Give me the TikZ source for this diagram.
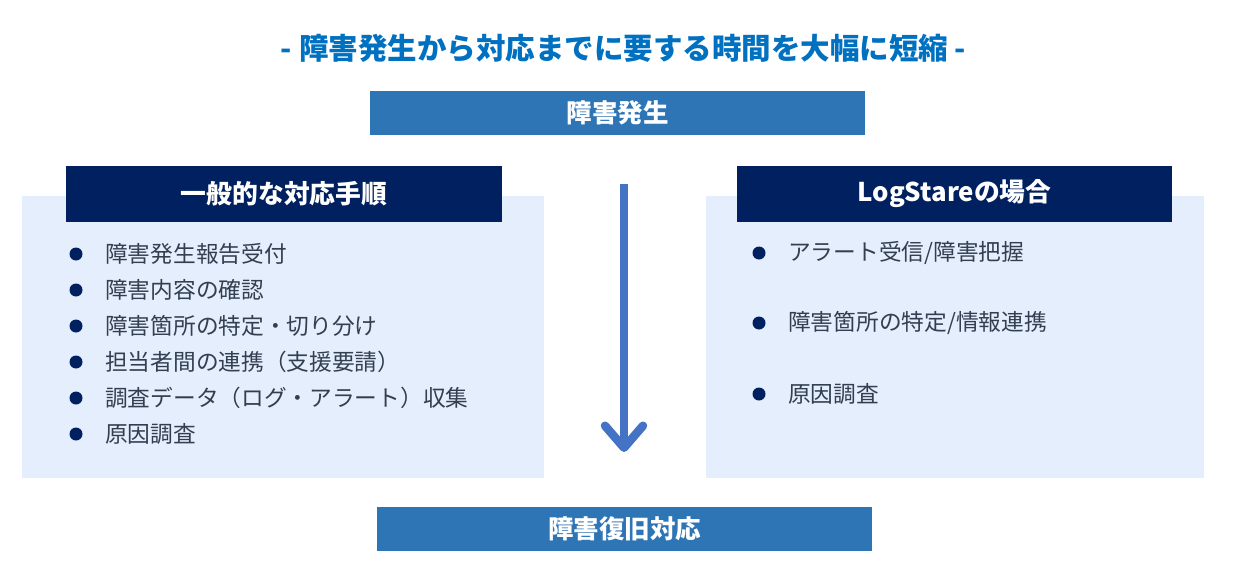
\documentclass[tikz,border=0pt]{standalone}
\usepackage{fontspec}
\setmainfont{Noto Sans CJK JP}
\usetikzlibrary{arrows.meta}
\definecolor{titleblue}{HTML}{0070C0}
\definecolor{boxblue}{HTML}{2E75B6}
\definecolor{navy}{HTML}{002060}
\definecolor{lightbg}{HTML}{E5EEFC}
\definecolor{arrowblue}{HTML}{4472C4}
\definecolor{itemtext}{HTML}{333F50}
\tikzset{
  bluebox/.style={fill=boxblue, text=white, inner sep=0, minimum width=495, minimum height=44, font=\fontsize{25.5}{30}\selectfont\bfseries},
  bgbox/.style={fill=lightbg, inner sep=0},
  headbox/.style={fill=navy, text=white, inner sep=0, minimum height=56, font=\fontsize{25.8}{30}\selectfont\bfseries},
  item/.style={anchor=west, inner sep=0, text=itemtext, font=\fontsize{22.7}{27}\selectfont},
  dot/.style={circle, fill=navy, inner sep=0, minimum size=13},
  flowarrow/.style={line width=8.5, arrowblue, -{Straight Barb[round, length=22, width=38]}}
}
\begin{document}
\begin{tikzpicture}[x=1pt, y=-1pt]
\useasboundingbox (0,0) rectangle (1236,578);
% title
\node[text=titleblue, inner sep=0, font=\fontsize{29.5}{34}\selectfont\bfseries] (title) at (623.5,48) {- 障害発生から対応までに要する時間を大幅に短縮 -};
% top and bottom boxes
\node[bluebox] (start) at (617.5,112.5) {障害発生};
\node[bluebox] (finish) at (624.5,529) {障害復旧対応};
% left panel
\node[bgbox, minimum width=522, minimum height=282] (leftbg) at (283,337) {};
\node[headbox, minimum width=436] (lefthead) at (284,194) {一般的な対応手順};
\node[dot] (ld1) at (76,254) {};
\node[item] (li1) at (105,254) {障害発生報告受付};
\node[dot] (ld2) at (76,290) {};
\node[item] (li2) at (105,290) {障害内容の確認};
\node[dot] (ld3) at (76,326) {};
\node[item] (li3) at (105,326) {障害箇所の特定・切り分け};
\node[dot] (ld4) at (76,362) {};
\node[item] (li4) at (105,362) {担当者間の連携（支援要請）};
\node[dot] (ld5) at (76,398) {};
\node[item] (li5) at (105,398) {調査データ（ログ・アラート）収集};
\node[dot] (ld6) at (76,434) {};
\node[item] (li6) at (105,434) {原因調査};
% right panel
\node[bgbox, minimum width=498, minimum height=282] (rightbg) at (955,337) {};
\node[headbox, minimum width=435] (righthead) at (954.5,194) {LogStareの場合};
\node[dot] (rd1) at (759,253) {};
\node[item] (ri1) at (788,253) {アラート受信/障害把握};
\node[dot] (rd2) at (759,323) {};
\node[item] (ri2) at (788,323) {障害箇所の特定/情報連携};
\node[dot] (rd3) at (759,394) {};
\node[item] (ri3) at (788,394) {原因調査};
% arrow
\coordinate (arrowtop) at (624,184);
\coordinate (arrowend) at (624,452);
\draw[flowarrow] (arrowtop) -- (arrowend);
\end{tikzpicture}
\end{document}
